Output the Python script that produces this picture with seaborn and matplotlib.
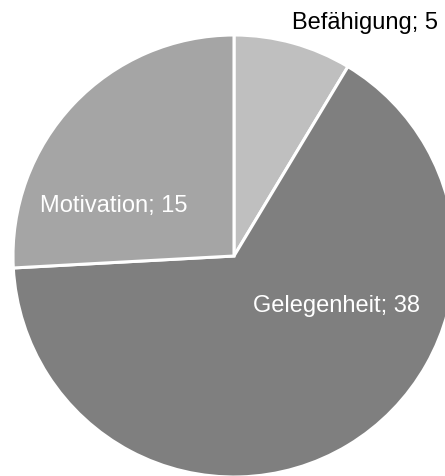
import matplotlib
matplotlib.use("Agg")
import matplotlib.pyplot as plt
import seaborn as sns

categories = ["Befähigung", "Gelegenheit", "Motivation"]
values = [5, 38, 15]
colors = ["#bfbfbf", "#7f7f7f", "#a5a5a5"]
text_colors = ["black", "white", "white"]
# label spots in pie-radius units (baseline, centred)
label_pos = [(0.593, 1.026), (0.464, -0.252), (-0.545, 0.200)]

sns.set_style("white")
plt.rcParams["font.family"] = ["Liberation Sans", "DejaVu Sans"]

W, H = 445, 476
cx, cy, r = 234, 256, 221  # pie centre and radius in pixels

fig = plt.figure(figsize=(W / 100, H / 100), dpi=100)
ax = fig.add_axes([0, 0, 1, 1])
ax.pie(values, colors=colors, startangle=90, counterclock=False,
       wedgeprops=dict(edgecolor="white", linewidth=2.2))
ax.set_aspect("auto")
ax.set_xlim(-cx / r, (W - cx) / r)
ax.set_ylim(-(H - cy) / r, cy / r)
ax.axis("off")

for cat, val, pos, tc in zip(categories, values, label_pos, text_colors):
    ax.text(pos[0], pos[1], f"{cat}; {val}", color=tc, fontsize=17,
            ha="center", va="baseline")

fig.savefig("out.png", dpi=100)
